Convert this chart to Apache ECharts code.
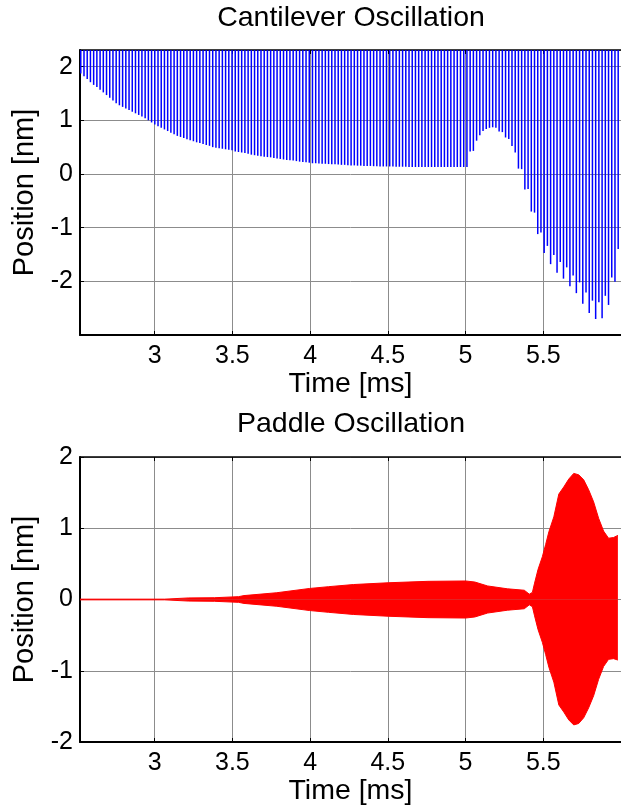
<!DOCTYPE html>
<html><head><meta charset="utf-8">
<script src="https://cdn.jsdelivr.net/npm/echarts@6/dist/echarts.min.js"></script>
<style>html,body{margin:0;padding:0;background:#fff}#c{width:621px;height:809px}</style>
</head><body><div id="c"></div>
<script>
// ---------- Cantilever oscillation (troughs of each cycle; peaks are off-scale) ----------
const cantStart = 2.525;   // ms, time of the first visible trough
const cantStep = 0.0207;   // ms between successive troughs (oscillation period)
const cantPeak = 12;       // nm, estimated off-scale peak (clipped by axis)
const cantTrough = [
  1.87,1.82,1.77,1.71,1.66,1.62,1.57,1.52,1.47,1.42,
  1.37,1.32,1.28,1.25,1.22,1.19,1.16,1.13,1.10,1.07,
  1.04,1.00,0.96,0.92,0.89,0.86,0.83,0.80,0.77,0.74,
  0.71,0.69,0.67,0.645,0.63,0.61,0.59,0.575,0.56,0.54,
  0.525,0.50,0.49,0.48,0.47,0.46,0.45,0.44,0.42,0.41,
  0.40,0.39,0.375,0.36,0.35,0.34,0.33,0.32,0.315,0.31,
  0.30,0.29,0.28,0.27,0.26,0.255,0.25,0.24,0.23,0.225,
  0.22,0.21,0.20,0.20,0.195,0.19,0.19,0.185,0.18,0.18,
  0.175,0.17,0.17,0.165,0.16,0.16,0.155,0.155,0.15,0.15,
  0.15,0.145,0.145,0.14,0.14,0.14,0.14,0.14,0.135,0.135,
  0.135,0.135,0.13,0.13,0.13,0.13,0.13,0.13,0.13,0.13,
  0.13,0.13,0.13,0.13,0.13,0.13,0.13,0.13,0.13,0.13,
  0.13,0.42,0.43,0.62,0.72,0.80,0.84,0.86,0.87,0.86,
  0.79,0.78,0.68,0.65,0.52,0.40,0.10,0.09,-0.29,-0.28,
  -0.70,-0.72,-1.12,-1.09,-1.47,-1.34,-1.68,-1.51,-1.84,-1.64,
  -1.95,-1.74,-2.09,-1.89,-2.22,-2.02,-2.42,-2.21,-2.59,-2.36,
  -2.70,-2.39,-2.69,-2.27,-2.44,-1.93,-2.01,-1.40
];

// ---------- Paddle oscillation envelope ----------
const padTime  = [2.52, 3.064, 3.072, 3.22, 3.385, 3.395, 3.54, 3.575, 3.786, 3.997, 4.119, 4.279, 4.503, 4.758, 5.001, 5.06, 5.142, 5.27, 5.378, 5.41, 5.43, 5.444, 5.466, 5.494, 5.515, 5.536, 5.568, 5.60, 5.632, 5.664, 5.696, 5.728, 5.76, 5.792, 5.824, 5.856, 5.888, 5.92, 5.952, 5.98];
const padUpper = [0.005, 0.005, 0.02, 0.022, 0.025, 0.035, 0.04, 0.055, 0.095, 0.155, 0.18, 0.21, 0.235, 0.255, 0.26, 0.245, 0.19, 0.15, 0.13, 0.075, 0.10, 0.23, 0.42, 0.60, 0.77, 0.95, 1.16, 1.48, 1.58, 1.69, 1.77, 1.75, 1.68, 1.54, 1.37, 1.14, 0.96, 0.86, 0.87, 0.90];
const padLower = [-0.005, -0.005, -0.02, -0.022, -0.025, -0.035, -0.04, -0.055, -0.095, -0.155, -0.18, -0.21, -0.235, -0.255, -0.26, -0.245, -0.19, -0.15, -0.13, -0.075, -0.10, -0.23, -0.42, -0.60, -0.77, -0.95, -1.16, -1.48, -1.58, -1.69, -1.76, -1.74, -1.66, -1.52, -1.35, -1.12, -0.94, -0.84, -0.83, -0.85];

// ---------- Axes / labels ----------
const xTickLabels = ['3', '3.5', '4', '4.5', '5', '5.5'];
const yTickLabels = ['-2', '-1', '0', '1', '2'];
const titles = ['Cantilever Oscillation', 'Paddle Oscillation'];
const xName = 'Time [ms]';
const yName = 'Position [nm]';

const FONT = 'Liberation Sans, Arial, sans-serif';
const chart = echarts.init(document.getElementById('c'), null, {renderer: 'canvas'});

function fmtX(v) { const s = String(Math.round(v * 100) / 100); return xTickLabels.includes(s) ? s : ''; }
function fmtY(v) { const s = String(Math.round(v * 100) / 100); return yTickLabels.includes(s) ? s : ''; }

const grids = [
  {left: 80, top: 50, width: 544, height: 285},
  {left: 80, top: 457, width: 544, height: 285}
];

function xAx(gi, withName) {
  return {
    type: 'value', gridIndex: gi, min: 2.52, max: 6.0, splitNumber: 7, minInterval: 0.5, maxInterval: 0.5,
    name: withName ? xName : '', nameLocation: 'middle', nameGap: 35,
    nameTextStyle: {fontFamily: FONT, fontSize: 28.5, color: '#000'},
    axisLine: {show: true, onZero: false, lineStyle: {color: '#000', width: 2}},
    axisTick: {show: true, inside: true, length: 4, lineStyle: {color: '#000'}},
    axisLabel: {formatter: fmtX, fontFamily: FONT, fontSize: 25, color: '#000', margin: 9, showMinLabel: false, showMaxLabel: false},
    splitLine: {show: true, lineStyle: {color: '#8c8c8c', width: 1}}
  };
}
function xTop(gi) {
  return {
    type: 'value', gridIndex: gi, position: 'top', min: 2.52, max: 6.0, splitNumber: 7, minInterval: 0.5, maxInterval: 0.5,
    axisLine: {show: true, onZero: false, lineStyle: {color: '#000', width: 1.5}},
    axisTick: {show: true, inside: true, length: 4, lineStyle: {color: '#000'}},
    axisLabel: {show: false}, splitLine: {show: false}
  };
}
function yAx(gi, min, max) {
  return {
    type: 'value', gridIndex: gi, min: min, max: max, interval: 1,
    name: yName, nameLocation: 'middle', nameGap: 35, nameRotate: 90,
    nameTextStyle: {fontFamily: FONT, fontSize: 29, color: '#000'},
    axisLine: {show: true, onZero: false, lineStyle: {color: '#000', width: 2}},
    axisTick: {show: true, inside: true, length: 4, lineStyle: {color: '#000'}},
    axisLabel: {formatter: fmtY, fontFamily: FONT, fontSize: 25, color: '#000', margin: 7},
    splitLine: {show: true, lineStyle: {color: '#8c8c8c', width: 1}}
  };
}

const option = {
  animation: false,
  backgroundColor: '#fff',
  title: [
    {text: titles[0], left: 351, top: 4, textAlign: 'center', padding: 0,
     textStyle: {fontFamily: FONT, fontSize: 28.5, fontWeight: 'normal', color: '#000'}},
    {text: titles[1], left: 351, top: 410, textAlign: 'center', padding: 0,
     textStyle: {fontFamily: FONT, fontSize: 28.5, fontWeight: 'normal', color: '#000'}}
  ],
  grid: grids,
  xAxis: [xAx(0, true), xAx(1, true), xTop(0), xTop(1)],
  yAxis: [yAx(0, -3, 2.31), yAx(1, -2, 2)],
  series: [
    {
      type: 'custom', xAxisIndex: 0, yAxisIndex: 0, silent: true,
      data: cantTrough.map((v, i) => [cantStart + i * cantStep, v, cantPeak]),
      encode: {x: 0, y: [1, 2]},
      renderItem: function (params, api) {
        const p1 = api.coord([api.value(0), api.value(1)]);
        const p2 = api.coord([api.value(0), api.value(2)]);
        const cs = params.coordSys;
        if (p1[0] < cs.x || p1[0] > cs.x + cs.width) return null;
        const top = Math.max(p2[1], cs.y);
        const bot = Math.min(p1[1], cs.y + cs.height);
        return {type: 'line', shape: {x1: p1[0], y1: bot, x2: p1[0], y2: top},
                style: {stroke: '#0000ff', lineWidth: 1.5}};
      }
    },
    {
      type: 'line', xAxisIndex: 1, yAxisIndex: 1, silent: true, symbol: 'none',
      data: padTime.map((t, i) => [t, padUpper[i]]),
      lineStyle: {color: '#ff0000', width: 1},
      areaStyle: {color: '#ff0000', opacity: 1, origin: 'auto'}
    },
    {
      type: 'line', xAxisIndex: 1, yAxisIndex: 1, silent: true, symbol: 'none',
      data: padTime.map((t, i) => [t, padLower[i]]),
      lineStyle: {color: '#ff0000', width: 1},
      areaStyle: {color: '#ff0000', opacity: 1, origin: 'auto'}
    }
  ]
};
chart.setOption(option);
</script>
</body></html>
